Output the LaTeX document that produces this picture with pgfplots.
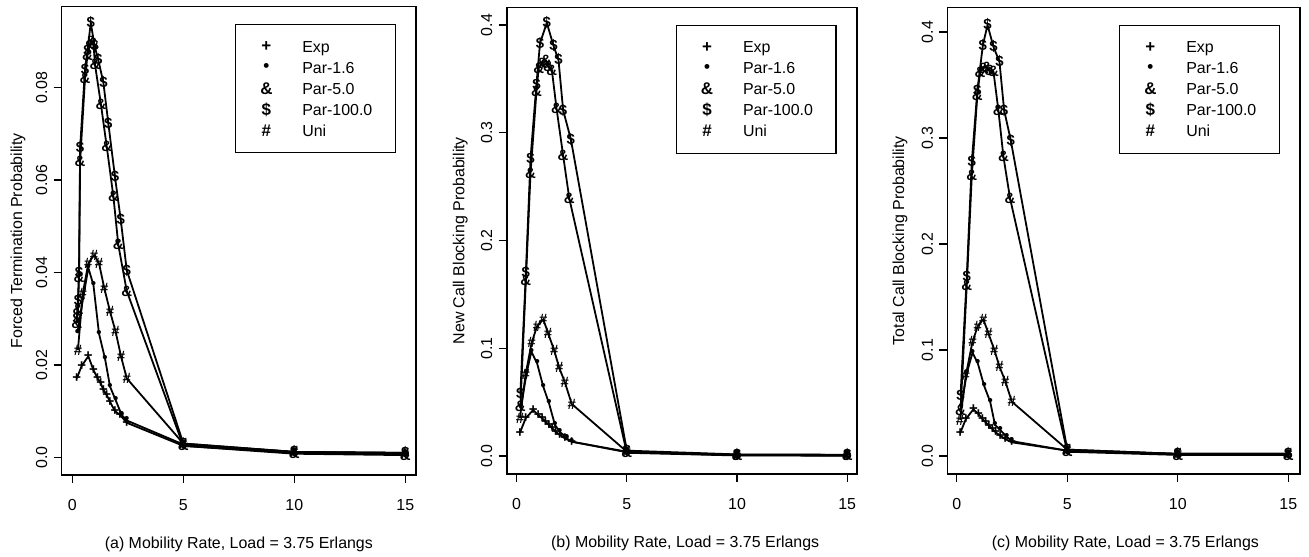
\documentclass[border=0pt]{standalone}
\usepackage{fontspec}
\setmainfont{Liberation Sans}
\usepackage{pgfplots}
\pgfplotsset{compat=1.18}

% 1 px of the reference = 0.5bp
\pgfplotsset{
  mob/.style={
    scale only axis,
    axis line style={line width=0.8pt},
    tick align=outside,
    xtick pos=bottom, ytick pos=left,
    major tick length=4bp,
    every tick/.style={black, line width=0.6pt},
    scaled x ticks=false, scaled y ticks=false,
    xtick={0,5,10,15},
    xticklabels={0,5,10,15},
    xticklabel style={anchor=north, inner sep=0pt},
    xticklabel shift=8bp,
    yticklabel style={rotate=90, anchor=south, inner sep=0pt},
    yticklabel shift=3bp,
    xlabel style={anchor=center, inner sep=0pt},
    ylabel style={anchor=center, inner sep=0pt, rotate=0},
    legend cell align=left,
    legend style={at={(1,1)}, anchor=north east, xshift=-10bp, yshift=-8.6bp,
      draw=black, line width=0.7pt, inner xsep=0pt, inner ysep=5.75bp,
      row sep=0pt, column sep=0pt,
      nodes={inner sep=0pt, text height=8bp, text depth=2.5bp}},
    legend image code/.code={
      \path (0bp,0bp) (32.5bp,0bp);
      \draw[##1, text mark style={font=\fontsize{8.5}{8.5}\selectfont\bfseries,
          inner sep=0pt, anchor=center, text height=, text depth=}]
        plot[only marks] coordinates {(15bp,0bp)};
    },
  },
  s/.style={black, line width=0.9pt, mark=text, text mark={#1},
    text mark as node=true,
    text mark style={font=\fontsize{7.5}{7.5}\selectfont\bfseries, inner sep=0pt, anchor=center}},
}

\begin{document}
\begin{tikzpicture}[font=\fontsize{8}{9.6}\selectfont]
\useasboundingbox (0bp,0bp) rectangle (654.5bp,-278.5bp);

% (a) forced termination
\begin{axis}[mob,
  at={(30.85bp,-3.35bp)}, anchor=north west,
  width=177.15bp, height=234.15bp,
  xmin=-0.48, xmax=15.48, ymin=-0.0038, ymax=0.0975,
  ytick={0,0.02,0.04,0.06,0.08},
  yticklabels={0.0,0.02,0.04,0.06,0.08},
  xlabel={(a) Mobility Rate, Load = 3.75 Erlangs},
  xlabel style={at={(axis description cs:0.5,-0.1473)}},
  ylabel={Forced Termination Probability},
  ylabel style={at={(axis description cs:-0.1233,0.5)}},
]
\addplot[s={+}] coordinates {(0.2,0.0171)(0.42,0.0198)(0.72,0.0219)(0.95,0.0189)(1.13,0.0172)(1.28,0.0160)(1.40,0.0146)(1.55,0.0135)(1.70,0.0120)(1.92,0.0100)(2.15,0.0092)(2.45,0.0075)(5,0.0025)(10,0.0010)(15,0.0007)};
\addlegendentry{Exp}
\addplot[s={\textbullet}] coordinates {(0.23,0.027)(0.47,0.034)(0.72,0.041)(0.95,0.0373)(1.2,0.0268)(1.47,0.0214)(1.7,0.0153)(1.95,0.0124)(2.22,0.0092)(2.45,0.0080)(5,0.0028)(10,0.0012)(15,0.0010)};
\addlegendentry{Par-1.6}
\addplot[s={\&}] coordinates {(0.2,0.029)(0.25,0.032)(0.3,0.039)(0.35,0.064)(0.57,0.082)(0.68,0.087)(0.83,0.090)(0.95,0.0896)(1.02,0.085)(1.29,0.0763)(1.55,0.0672)(1.85,0.0564)(2.07,0.046)(2.45,0.036)(5,0.0025)(10,0.0008)(15,0.0005)};
\addlegendentry{Par-5.0}
\addplot[s={\$}] coordinates {(0.2,0.030)(0.25,0.034)(0.3,0.040)(0.35,0.067)(0.57,0.084)(0.68,0.088)(0.83,0.094)(1.0,0.089)(1.17,0.086)(1.4,0.081)(1.62,0.0723)(1.92,0.0607)(2.18,0.0514)(2.45,0.0405)(5,0.0030)(10,0.0012)(15,0.0010)};
\addlegendentry{Par-100.0\rule{11.5bp}{0pt}}
\addplot[s={\#}] coordinates {(0.25,0.0232)(0.47,0.0355)(0.72,0.042)(0.98,0.0438)(1.2,0.042)(1.44,0.0366)(1.7,0.0315)(1.95,0.0272)(2.19,0.0219)(2.45,0.0171)(5,0.003)(10,0.0012)(15,0.0009)};
\addlegendentry{Uni}
\end{axis}

% (b) new call blocking
\begin{axis}[mob,
  at={(253.35bp,-3.65bp)}, anchor=north west,
  width=175bp, height=233.35bp,
  xmin=-0.45, xmax=15.43, ymin=-0.0167, ymax=0.4164,
  ytick={0,0.1,0.2,0.3,0.4},
  yticklabels={0.0,0.1,0.2,0.3,0.4},
  xlabel={(b) Mobility Rate, Load = 3.75 Erlangs},
  xlabel style={at={(axis description cs:0.51,-0.1478)}},
  ylabel={New Call Blocking Probability},
  ylabel style={at={(axis description cs:-0.133,0.5)}},
]
\addplot[s={+}] coordinates {(0.15,0.0216)(0.41,0.035)(0.75,0.0427)(0.98,0.038)(1.16,0.035)(1.31,0.0319)(1.47,0.0288)(1.62,0.0257)(1.77,0.0226)(1.96,0.0195)(2.19,0.0164)(2.5,0.0133)(5,0.0035)(10,0.0008)(15,0.0005)};
\addlegendentry{Exp}
\addplot[s={\textbullet}] coordinates {(0.2,0.0458)(0.45,0.0767)(0.67,0.0968)(0.93,0.086)(1.21,0.0643)(1.47,0.0489)(1.74,0.0288)(1.96,0.0226)(2.27,0.0164)(2.5,0.0133)(5,0.004)(10,0.0012)(15,0.001)};
\addlegendentry{Par-1.6}
\addplot[s={\&}] coordinates {(0.17,0.046)(0.42,0.163)(0.63,0.262)(0.9,0.338)(1.0,0.360)(1.15,0.364)(1.33,0.367)(1.45,0.362)(1.6,0.358)(1.81,0.3227)(2.11,0.279)(2.39,0.239)(5,0.003)(10,0.0005)(15,0.0003)};
\addlegendentry{Par-5.0}
\addplot[s={\$}] coordinates {(0.17,0.058)(0.42,0.170)(0.63,0.276)(0.9,0.345)(1.06,0.383)(1.37,0.402)(1.67,0.381)(1.9,0.3675)(2.11,0.321)(2.46,0.294)(5,0.005)(10,0.0015)(15,0.0012)};
\addlegendentry{Par-100.0\rule{11.5bp}{0pt}}
\addplot[s={\#}] coordinates {(0.15,0.035)(0.41,0.0761)(0.68,0.105)(0.93,0.1206)(1.21,0.1268)(1.43,0.1139)(1.71,0.0977)(1.93,0.082)(2.19,0.0684)(2.5,0.0483)(5,0.004)(10,0.001)(15,0.0008)};
\addlegendentry{Uni}
\end{axis}

% (c) total call blocking
\begin{axis}[mob,
  at={(473.65bp,-3.65bp)}, anchor=north west,
  width=176.35bp, height=233.35bp,
  xmin=-0.43, xmax=15.53, ymin=-0.017, ymax=0.4233,
  ytick={0,0.1,0.2,0.3,0.4},
  yticklabels={0.0,0.1,0.2,0.3,0.4},
  xlabel={(c) Mobility Rate, Load = 3.75 Erlangs},
  xlabel style={at={(axis description cs:0.505,-0.1478)}},
  ylabel={Total Call Blocking Probability},
  ylabel style={at={(axis description cs:-0.134,0.5)}},
]
\addplot[s={+}] coordinates {(0.15,0.0214)(0.41,0.0349)(0.75,0.044)(0.98,0.0396)(1.16,0.0349)(1.31,0.0318)(1.46,0.0286)(1.61,0.0255)(1.76,0.0223)(1.96,0.0192)(2.19,0.016)(2.49,0.0129)(5,0.005)(10,0.0015)(15,0.0012)};
\addlegendentry{Exp}
\addplot[s={\textbullet}] coordinates {(0.2,0.046)(0.45,0.078)(0.71,0.0975)(0.95,0.0874)(1.24,0.066)(1.51,0.0512)(1.73,0.0292)(1.96,0.0245)(2.26,0.0182)(2.49,0.014)(5,0.005)(10,0.002)(15,0.002)};
\addlegendentry{Par-1.6}
\addplot[s={\&}] coordinates {(0.17,0.0434)(0.45,0.161)(0.68,0.265)(0.93,0.3406)(1.05,0.362)(1.2,0.366)(1.35,0.367)(1.5,0.364)(1.66,0.3625)(1.88,0.3264)(2.11,0.2824)(2.41,0.243)(5,0.004)(10,0.001)(15,0.001)};
\addlegendentry{Par-5.0}
\addplot[s={\$}] coordinates {(0.17,0.0575)(0.45,0.169)(0.68,0.278)(0.93,0.345)(1.18,0.3877)(1.39,0.4066)(1.66,0.386)(1.93,0.372)(2.14,0.3264)(2.44,0.298)(5,0.006)(10,0.002)(15,0.002)};
\addlegendentry{Par-100.0\rule{11.5bp}{0pt}}
\addplot[s={\#}] coordinates {(0.15,0.034)(0.41,0.0764)(0.71,0.1078)(0.95,0.1226)(1.2,0.129)(1.43,0.1157)(1.7,0.1)(1.93,0.0843)(2.19,0.0708)(2.49,0.0512)(5,0.006)(10,0.002)(15,0.002)};
\addlegendentry{Uni}
\end{axis}
\end{tikzpicture}
\end{document}
